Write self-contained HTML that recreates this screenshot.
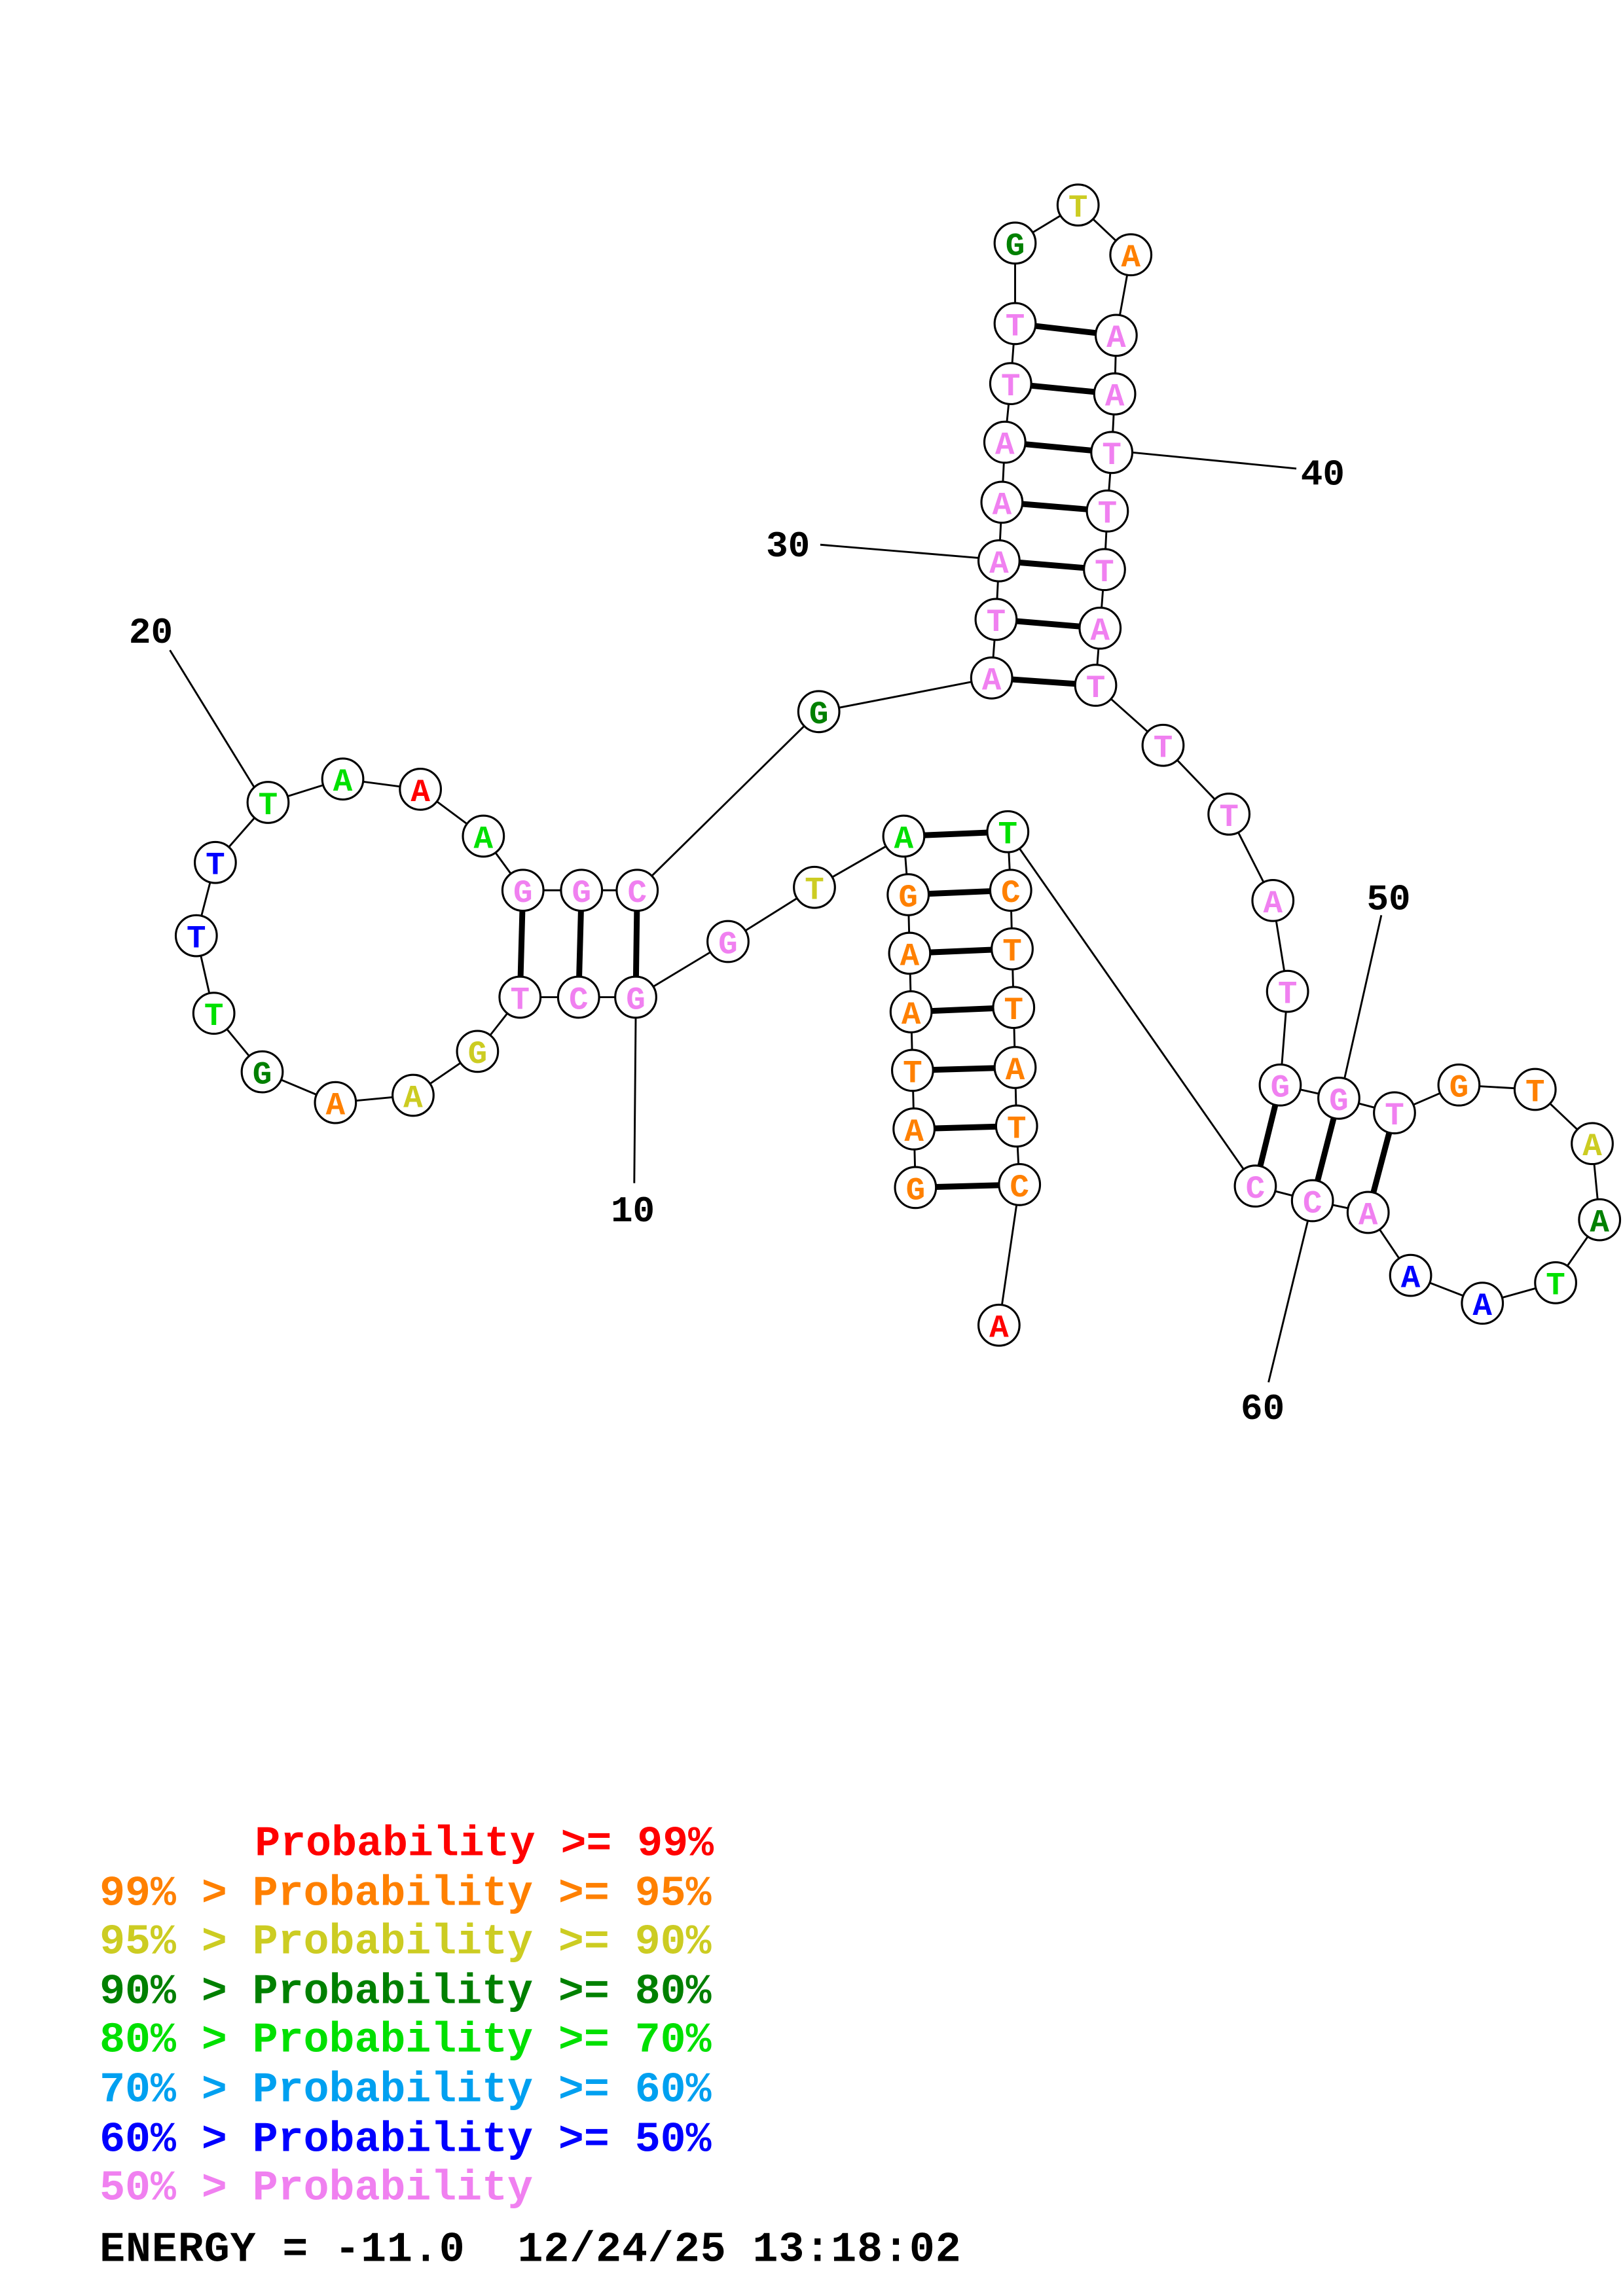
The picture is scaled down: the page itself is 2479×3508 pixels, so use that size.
<!DOCTYPE html>
<html><head><meta charset="utf-8"><style>
html,body{margin:0;padding:0;background:#fff}
svg{display:block}
.n circle{fill:#fff;stroke:#000;stroke-width:1.4}
.n text{font-family:"Liberation Mono",monospace;font-weight:bold;font-size:22px;text-anchor:middle}
.lg text{font-family:"Liberation Mono",monospace;font-weight:bold;font-size:29px;white-space:pre}
.num{font-family:"Liberation Mono",monospace;font-weight:bold;font-size:25px;text-anchor:middle}
</style></head><body>
<svg width="2479" height="3508" viewBox="0 0 1108 1568" preserveAspectRatio="none" xmlns="http://www.w3.org/2000/svg">
<g stroke="#000" stroke-width="1.3" fill="none">
<polyline points="625,811 624,771 623,731 622,691 621,651 620,611 617,571 556,606 497,643 434,681 395,681 355,681 326,718 282,748 229,753 179,732 146,692 134,639 147,589 183,548 234,532 287,539 330,571 357,608 397,608 435,608 559,486 677,463 680,423 682,383 684,343 686,302 690,262 693,221 693,166 736,140 772,174 762,229 761,269 759,309 756,349 754,389 751,429 748,468 794,509 839,556 869,615 879,677 874,741 914,750 952,760 996,741 1048,744 1087,781 1092,833 1062,876 1012,890 963,871 934,828 896,820 857,810 688,568 690,608 691,648 692,688 693,729 694,769 696,809 682,905"/>
<line x1="434" y1="695" x2="433" y2="808"/>
<line x1="116" y1="444" x2="175" y2="540"/>
<line x1="560" y1="372" x2="668" y2="381"/>
<line x1="773" y1="309" x2="885" y2="320"/>
<line x1="943" y1="625" x2="918" y2="736"/>
<line x1="893" y1="833" x2="866" y2="944"/>
</g>
<g stroke="#000" stroke-width="4">
<line x1="625" y1="811" x2="696" y2="809"/><line x1="624" y1="771" x2="694" y2="769"/><line x1="623" y1="731" x2="693" y2="729"/><line x1="622" y1="691" x2="692" y2="688"/><line x1="621" y1="651" x2="691" y2="648"/><line x1="620" y1="611" x2="690" y2="608"/><line x1="617" y1="571" x2="688" y2="568"/>
<line x1="434" y1="681" x2="435" y2="608"/><line x1="395" y1="681" x2="397" y2="608"/><line x1="355" y1="681" x2="357" y2="608"/>
<line x1="677" y1="463" x2="748" y2="468"/><line x1="680" y1="423" x2="751" y2="429"/><line x1="682" y1="383" x2="754" y2="389"/><line x1="684" y1="343" x2="756" y2="349"/><line x1="686" y1="302" x2="759" y2="309"/><line x1="690" y1="262" x2="761" y2="269"/><line x1="693" y1="221" x2="762" y2="229"/>
<line x1="874" y1="741" x2="857" y2="810"/><line x1="914" y1="750" x2="896" y2="820"/><line x1="952" y1="760" x2="934" y2="828"/>
</g>
<g class="n">
<g fill="#ff8000">
<circle cx="625" cy="811" r="14"/><text x="625" y="819">G</text>
<circle cx="624" cy="771" r="14"/><text x="624" y="779">A</text>
<circle cx="623" cy="731" r="14"/><text x="623" y="739">T</text>
<circle cx="622" cy="691" r="14"/><text x="622" y="699">A</text>
<circle cx="621" cy="651" r="14"/><text x="621" y="659">A</text>
<circle cx="620" cy="611" r="14"/><text x="620" y="619">G</text>
<circle cx="282" cy="748" r="14"/><text x="282" y="756" fill="#cccc22">A</text>
<circle cx="229" cy="753" r="14"/><text x="229" y="761">A</text>
<circle cx="772" cy="174" r="14"/><text x="772" y="182">A</text>
<circle cx="996" cy="741" r="14"/><text x="996" y="749">G</text>
<circle cx="1048" cy="744" r="14"/><text x="1048" y="752">T</text>
<circle cx="690" cy="608" r="14"/><text x="690" y="616">C</text>
<circle cx="691" cy="648" r="14"/><text x="691" y="656">T</text>
<circle cx="692" cy="688" r="14"/><text x="692" y="696">T</text>
<circle cx="693" cy="729" r="14"/><text x="693" y="737">A</text>
<circle cx="694" cy="769" r="14"/><text x="694" y="777">T</text>
<circle cx="696" cy="809" r="14"/><text x="696" y="817">C</text>
</g>
<g fill="#00e000">
<circle cx="617" cy="571" r="14"/><text x="617" y="579">A</text>
<circle cx="146" cy="692" r="14"/><text x="146" y="700">T</text>
<circle cx="183" cy="548" r="14"/><text x="183" y="556">T</text>
<circle cx="234" cy="532" r="14"/><text x="234" y="540">A</text>
<circle cx="330" cy="571" r="14"/><text x="330" y="579">A</text>
<circle cx="1062" cy="876" r="14"/><text x="1062" y="884">T</text>
<circle cx="688" cy="568" r="14"/><text x="688" y="576">T</text>
</g>
<g fill="#cccc22">
<circle cx="556" cy="606" r="14"/><text x="556" y="614">T</text>
<circle cx="326" cy="718" r="14"/><text x="326" y="726">G</text>
<circle cx="736" cy="140" r="14"/><text x="736" y="148">T</text>
<circle cx="1087" cy="781" r="14"/><text x="1087" y="789">A</text>
</g>
<g fill="#008000">
<circle cx="179" cy="732" r="14"/><text x="179" y="740">G</text>
<circle cx="559" cy="486" r="14"/><text x="559" y="494">G</text>
<circle cx="693" cy="166" r="14"/><text x="693" y="174">G</text>
<circle cx="1092" cy="833" r="14"/><text x="1092" y="841">A</text>
</g>
<g fill="#0000ff">
<circle cx="134" cy="639" r="14"/><text x="134" y="647">T</text>
<circle cx="147" cy="589" r="14"/><text x="147" y="597">T</text>
<circle cx="1012" cy="890" r="14"/><text x="1012" y="898">A</text>
<circle cx="963" cy="871" r="14"/><text x="963" y="879">A</text>
</g>
<g fill="#ff0000">
<circle cx="287" cy="539" r="14"/><text x="287" y="547">A</text>
<circle cx="682" cy="905" r="14"/><text x="682" y="913">A</text>
</g>
<g fill="#f080f0">
<circle cx="497" cy="643" r="14"/><text x="497" y="651">G</text>
<circle cx="434" cy="681" r="14"/><text x="434" y="689">G</text>
<circle cx="395" cy="681" r="14"/><text x="395" y="689">C</text>
<circle cx="355" cy="681" r="14"/><text x="355" y="689">T</text>
<circle cx="357" cy="608" r="14"/><text x="357" y="616">G</text>
<circle cx="397" cy="608" r="14"/><text x="397" y="616">G</text>
<circle cx="435" cy="608" r="14"/><text x="435" y="616">C</text>
<circle cx="677" cy="463" r="14"/><text x="677" y="471">A</text>
<circle cx="680" cy="423" r="14"/><text x="680" y="431">T</text>
<circle cx="682" cy="383" r="14"/><text x="682" y="391">A</text>
<circle cx="684" cy="343" r="14"/><text x="684" y="351">A</text>
<circle cx="686" cy="302" r="14"/><text x="686" y="310">A</text>
<circle cx="690" cy="262" r="14"/><text x="690" y="270">T</text>
<circle cx="693" cy="221" r="14"/><text x="693" y="229">T</text>
<circle cx="762" cy="229" r="14"/><text x="762" y="237">A</text>
<circle cx="761" cy="269" r="14"/><text x="761" y="277">A</text>
<circle cx="759" cy="309" r="14"/><text x="759" y="317">T</text>
<circle cx="756" cy="349" r="14"/><text x="756" y="357">T</text>
<circle cx="754" cy="389" r="14"/><text x="754" y="397">T</text>
<circle cx="751" cy="429" r="14"/><text x="751" y="437">A</text>
<circle cx="748" cy="468" r="14"/><text x="748" y="476">T</text>
<circle cx="794" cy="509" r="14"/><text x="794" y="517">T</text>
<circle cx="839" cy="556" r="14"/><text x="839" y="564">T</text>
<circle cx="869" cy="615" r="14"/><text x="869" y="623">A</text>
<circle cx="879" cy="677" r="14"/><text x="879" y="685">T</text>
<circle cx="874" cy="741" r="14"/><text x="874" y="749">G</text>
<circle cx="914" cy="750" r="14"/><text x="914" y="758">G</text>
<circle cx="952" cy="760" r="14"/><text x="952" y="768">T</text>
<circle cx="934" cy="828" r="14"/><text x="934" y="836">A</text>
<circle cx="896" cy="820" r="14"/><text x="896" y="828">C</text>
<circle cx="857" cy="810" r="14"/><text x="857" y="818">C</text>
</g>
</g>
<text class="num" x="432" y="834">10</text>
<text class="num" x="103" y="439">20</text>
<text class="num" x="538" y="380">30</text>
<text class="num" x="903" y="331">40</text>
<text class="num" x="948" y="621">50</text>
<text class="num" x="862" y="969">60</text>
<g class="lg">
<text x="174" y="1267" fill="#ff0000">Probability &gt;= 99%</text>
<text x="68" y="1301" fill="#ff8000">99% &gt; Probability &gt;= 95%</text>
<text x="68" y="1334" fill="#cccc22">95% &gt; Probability &gt;= 90%</text>
<text x="68" y="1368" fill="#008000">90% &gt; Probability &gt;= 80%</text>
<text x="68" y="1401" fill="#00e000">80% &gt; Probability &gt;= 70%</text>
<text x="68" y="1435" fill="#00a0f0">70% &gt; Probability &gt;= 60%</text>
<text x="68" y="1469" fill="#0000ff">60% &gt; Probability &gt;= 50%</text>
<text x="68" y="1502" fill="#f080f0">50% &gt; Probability</text>
<text x="68" y="1544" fill="#000" textLength="588" lengthAdjust="spacing">ENERGY = -11.0  12/24/25 13:18:02</text>
</g>
</svg>
</body></html>
